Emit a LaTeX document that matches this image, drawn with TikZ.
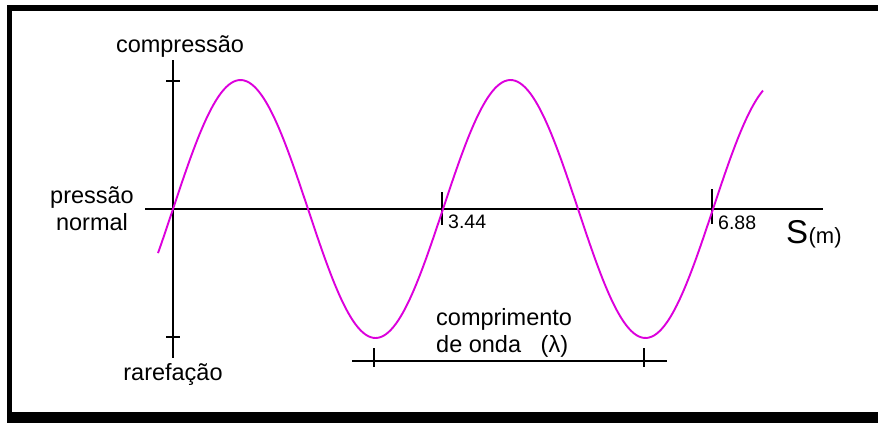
\documentclass[tikz,border=0pt]{standalone}
\usepackage{fontspec}
\setmainfont{Liberation Sans}
\definecolor{wavemag}{RGB}{220,0,220}

\begin{document}
\begin{tikzpicture}[x=1pt,y=-1pt,
    axis/.style={line width=1.7pt},
    wave/.style={line width=1.9pt, wavemag},
    lbl/.style={font=\fontsize{23.5}{27}\selectfont, inner sep=0pt},
    num/.style={font=\fontsize{19.5}{21}\selectfont, inner sep=0pt, anchor=base west}]
            \useasboundingbox (0,0) rectangle (878,423);
            % frame
            \fill[black] (7,5) rectangle (878,423);
            \fill[white] (12,11) rectangle (878,412);

            \coordinate (O) at (173,209);
            \coordinate (yTop) at (173,60);
            \coordinate (yBot) at (173,358);
            \coordinate (xL) at (145,209);
            \coordinate (xR) at (823,209);

            \draw[axis] (yTop)--(yBot);
            \draw[axis] (xL)--(xR);
            \draw[axis] (166,81)--(180,81);
            \draw[axis] (166,337)--(180,337);
            \draw[axis] (442,192)--(442,225);
            \draw[axis] (712,189)--(712,224);

            \draw[wave] plot[domain=158:763, samples=240, smooth]
                (\x, {209-129*sin((\x-173)/270*360)});

            % wavelength bar
            \coordinate (lamL) at (352,361);
            \coordinate (lamR) at (667,361);
            \draw[axis] (lamL)--(lamR);
            \draw[axis] (374,348)--(374,367);
            \draw[axis] (644,348)--(644,367);

            \node[lbl, anchor=base] (comp) at (180,52) {compressão};
            \node[lbl, anchor=base] (rare) at (173,380) {rarefação};
            \node[lbl, align=center, anchor=base] (pn) at (92,230) {pressão\\normal};
            \node[num] (n1) at (448,228) {3.44};
            \node[num] (n2) at (718,229) {6.88};
            \node[inner sep=0pt, anchor=base west, font=\fontsize{33}{35}\selectfont] (S) at (786,243) {S};
            \node[inner sep=0pt, anchor=base west, font=\fontsize{22}{24}\selectfont] (unit) at (S.base east) {(m)};
            \node[lbl, align=left, anchor=base west] (lam) at (436,352) {comprimento\\de onda\ \ \ (λ)};
        \end{tikzpicture}
\end{document}
